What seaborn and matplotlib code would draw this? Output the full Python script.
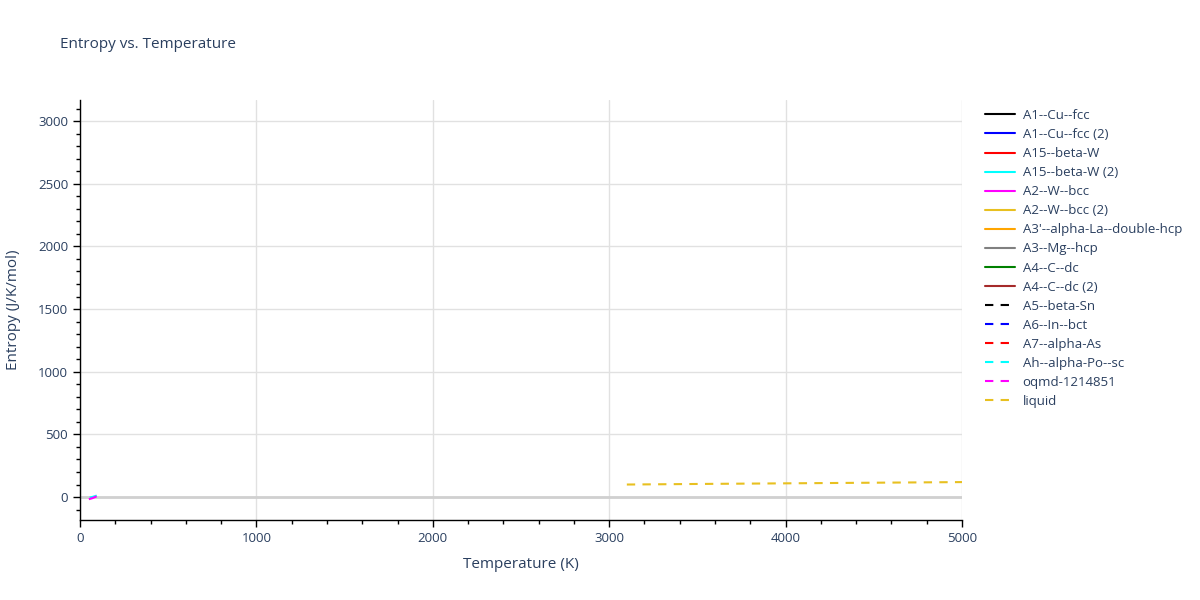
import matplotlib
matplotlib.use("Agg")
import matplotlib.pyplot as plt
import matplotlib.ticker as mticker
import numpy as np
import pandas as pd
import seaborn as sns

sns.set_theme(style="white")
plt.rcParams["font.family"] = ["Open Sans", "DejaVu Sans"]

TEXT_COLOR = "#2a3f5f"
GRID_COLOR = "#e1e1e1"

# ---------------------------------------------------------------------------
# Data
# ---------------------------------------------------------------------------

phases = [
    "A1--Cu--fcc", "A1--Cu--fcc (2)", "A15--beta-W", "A15--beta-W (2)",
    "A2--W--bcc", "A2--W--bcc (2)", "A3'--alpha-La--double-hcp", "A3--Mg--hcp",
    "A4--C--dc", "A4--C--dc (2)", "A5--beta-Sn", "A6--In--bct",
    "A7--alpha-As", "Ah--alpha-Po--sc", "oqmd-1214851", "liquid",
]
colors = [
    "black", "blue", "red", "cyan", "magenta", "#e8c020", "orange", "grey",
    "green", "brown", "black", "blue", "red", "cyan", "magenta", "#e8c020",
]
dashed = [False] * 10 + [True] * 6

alpha_po_T = [55, 75, 95]
alpha_po_S = [-4, 3, 12]

oqmd_T = [50, 70, 95]
oqmd_S = [-17, -9, 6]

liquid_T = [3100, 3500, 4000, 4500, 5000]
liquid_S = [100, 104.5, 109.5, 114.5, 119.5]

series = {name: ([], []) for name in phases}
series["Ah--alpha-Po--sc"] = (alpha_po_T, alpha_po_S)
series["oqmd-1214851"] = (oqmd_T, oqmd_S)
series["liquid"] = (liquid_T, liquid_S)

# ---------------------------------------------------------------------------
# Plot
# ---------------------------------------------------------------------------

fig = plt.figure(figsize=(12, 6), dpi=100)
ax = fig.add_axes([80 / 1200, 80 / 600, 882 / 1200, 420 / 600])

ax.axhline(0, color="#d0d0d0", linewidth=2, zorder=1)

handles = []
for name, color, dash in zip(phases, colors, dashed):
    T, S = series[name]
    if T:
        df = pd.DataFrame({"T": np.array(T, dtype=float), "S": np.array(S, dtype=float)})
        sns.lineplot(data=df, x="T", y="S", ax=ax, color=color, linewidth=1.5,
                     sort=False, estimator=None, zorder=3)
        if dash:
            ax.lines[-1].set_dashes((4, 3.5))
    h = plt.Line2D([], [], color=color, linewidth=1.5)
    if dash:
        h.set_dashes((4, 3.5))
    handles.append(h)

ax.set_xlim(0, 5000)
ax.set_ylim(-183, 3168)
ax.xaxis.set_major_locator(mticker.MultipleLocator(1000))
ax.xaxis.set_minor_locator(mticker.MultipleLocator(200))
ax.yaxis.set_major_locator(mticker.MultipleLocator(500))
ax.yaxis.set_minor_locator(mticker.MultipleLocator(100))
ax.grid(True, which="major", color=GRID_COLOR, linewidth=1)
ax.set_axisbelow(True)

for side in ["top", "right"]:
    ax.spines[side].set_visible(False)
for side in ["left", "bottom"]:
    ax.spines[side].set_color("black")
    ax.spines[side].set_linewidth(1)

ax.tick_params(which="major", direction="out", length=5, width=1, color="black",
               labelsize=9.5, labelcolor=TEXT_COLOR, left=True, bottom=True)
ax.tick_params(which="minor", direction="out", length=3, width=1, color="black",
               left=True, bottom=True)

ax.set_xlabel("Temperature (K)", fontsize=11, color=TEXT_COLOR, labelpad=9)
ax.set_ylabel("Entropy (J/K/mol)", fontsize=11, color=TEXT_COLOR, labelpad=12)

fig.text(60 / 1200, 1 - 45 / 600, "Entropy vs. Temperature", fontsize=11,
         color=TEXT_COLOR, va="center", ha="left")

leg = fig.legend(handles, phases, loc="upper left",
                 bbox_to_anchor=(985 / 1200, 1 - 109 / 600), frameon=False,
                 fontsize=9.5, handlelength=2.3, handletextpad=0.55,
                 labelspacing=0.46, borderaxespad=0, borderpad=0)
for t in leg.get_texts():
    t.set_color(TEXT_COLOR)

fig.savefig("out.png", dpi=100)
